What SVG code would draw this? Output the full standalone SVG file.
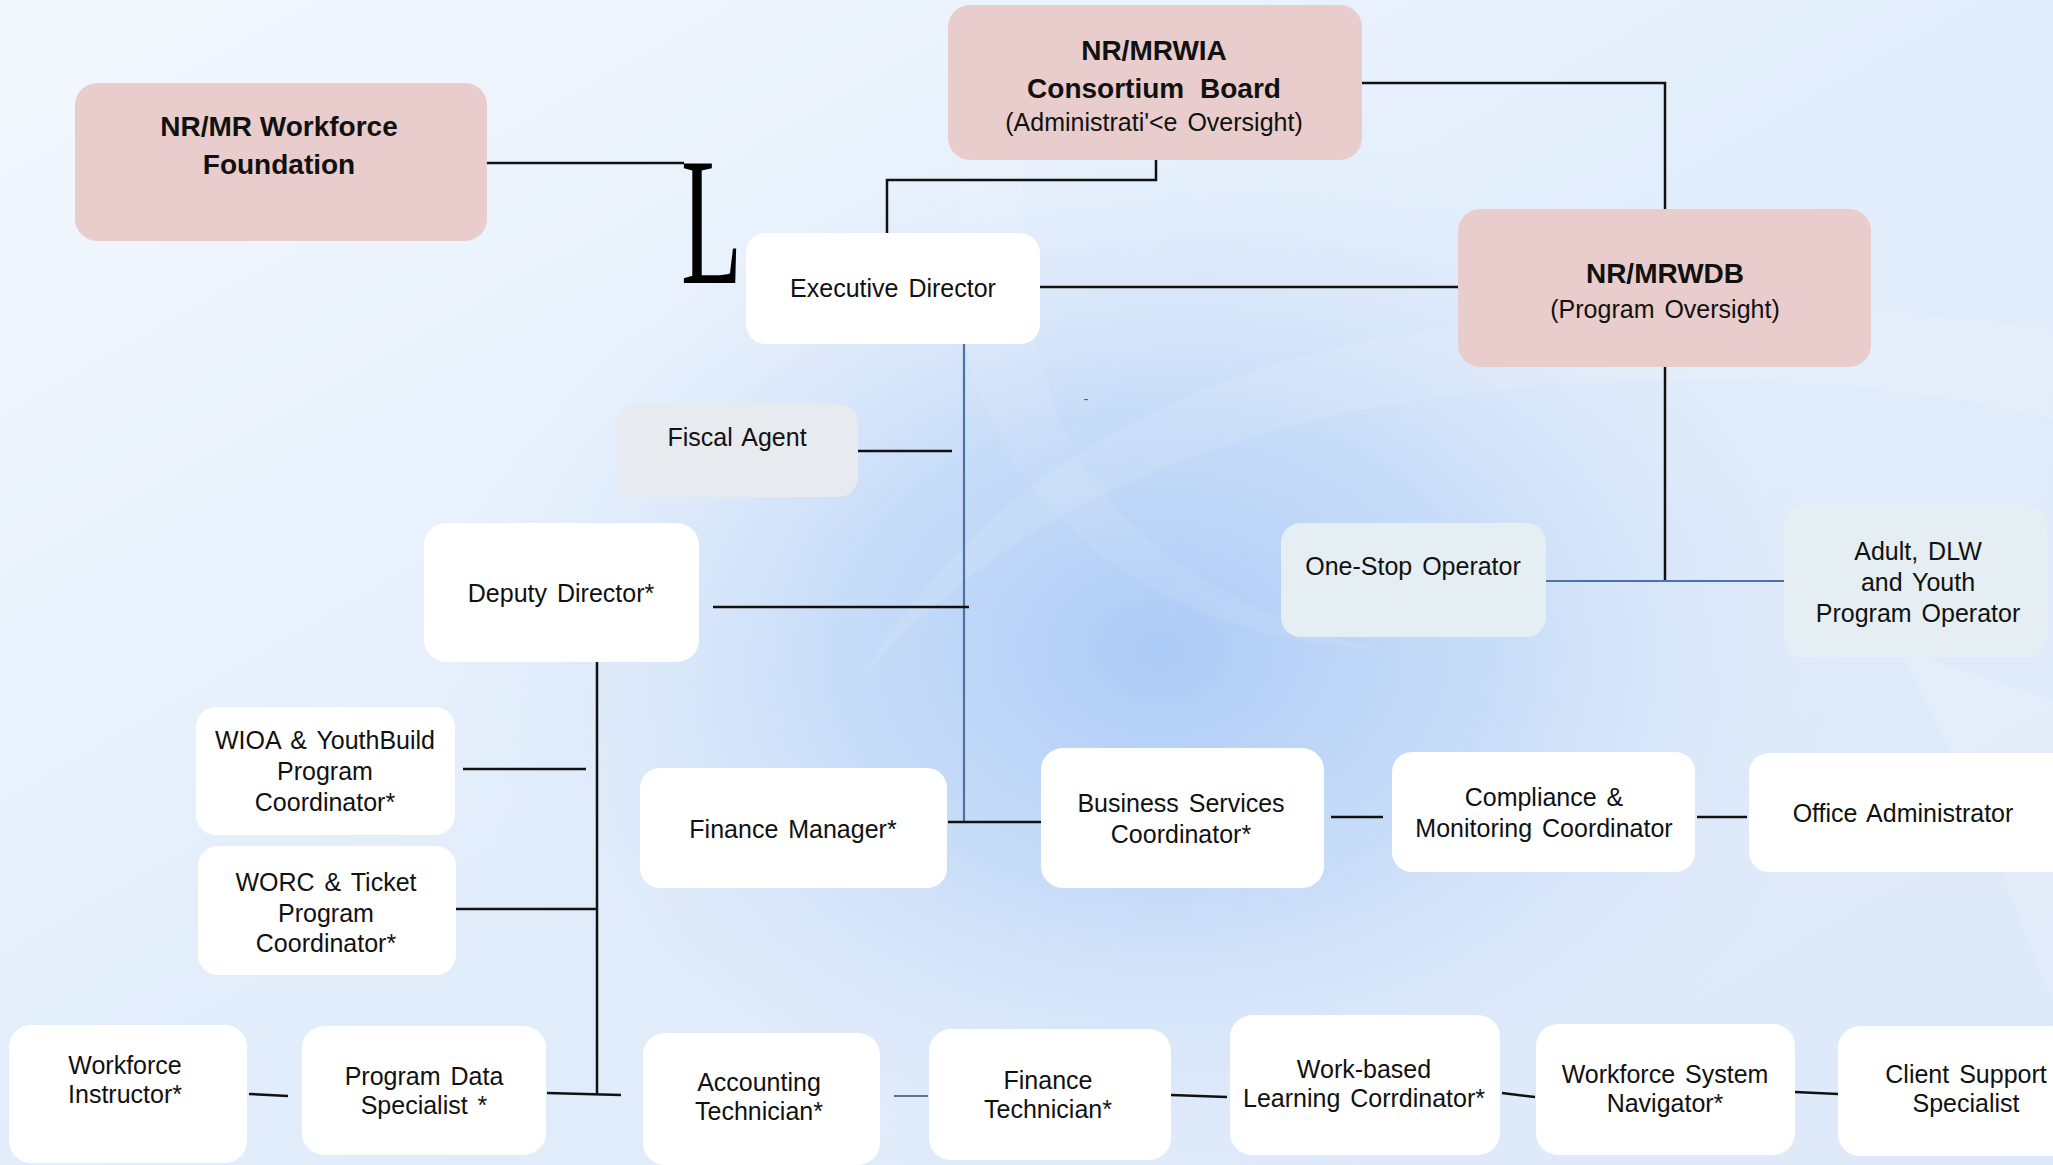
<svg xmlns="http://www.w3.org/2000/svg" width="2053" height="1165" viewBox="0 0 2053 1165">
<defs>
<linearGradient id="bgBase" x1="0" y1="0" x2="1" y2="1">
<stop offset="0" stop-color="#f3f8fe"/>
<stop offset="0.5" stop-color="#e2edfb"/>
<stop offset="1" stop-color="#dde9f9"/>
</linearGradient>
<radialGradient id="bgGlow" cx="1160" cy="650" r="720" gradientUnits="userSpaceOnUse" gradientTransform="translate(1160 650) scale(1 0.75) translate(-1160 -650)">
<stop offset="0" stop-color="#a9c9f6" stop-opacity="0.95"/>
<stop offset="0.45" stop-color="#bcd5f7" stop-opacity="0.7"/>
<stop offset="1" stop-color="#dde9f9" stop-opacity="0"/>
</radialGradient>
<style>
.node rect{stroke:none}
.pink{fill:#e9cdcd}
.white{fill:#ffffff}
.gray{fill:#e7eaef}
.pale{fill:#e5eef3}
text{font-family:"Liberation Sans",Arial,sans-serif;fill:#111111;text-anchor:middle}
.b{font-size:28px;font-weight:bold}
.r{font-size:25px;word-spacing:3px}
.conn line,.conn polyline{fill:none;stroke:#111111;stroke-width:2.5}
.conn .blue{stroke:#4f72a6;stroke-width:2.2}
.conn .slate{stroke:#5a7290;stroke-width:2.2}
</style>
</defs>

<g id="background">
<rect x="0" y="0" width="2053" height="1165" fill="url(#bgBase)"/>
<rect x="0" y="0" width="2053" height="1165" fill="url(#bgGlow)"/>
<path d="M1090 0 C1010 120 1000 260 1060 420 C1100 520 1210 610 1380 650 C1200 640 1060 560 990 420 C930 290 950 120 1030 0 Z" fill="#ffffff" opacity="0.08"/>
<path d="M860 680 C1000 520 1200 420 1500 390 C1700 370 1900 380 2053 420 L2053 330 C1860 300 1640 300 1430 330 C1170 370 980 480 860 680 Z" fill="#ffffff" opacity="0.1"/>
<path d="M1900 650 C1980 800 2030 950 2053 1000 L2053 700 Z" fill="#ffffff" opacity="0.15"/>
</g>

<g id="connectors" class="conn">
<line x1="487" y1="163" x2="684" y2="163"/>
<polyline points="887,233 887,180 1156,180 1156,160"/>
<polyline points="1362,83 1665,83 1665,209"/>
<line x1="1040" y1="287" x2="1458" y2="287"/>
<line x1="1665" y1="367" x2="1665" y2="582"/>
<line class="blue" x1="1546" y1="581" x2="1784" y2="581"/>
<line class="blue" x1="964" y1="344" x2="964" y2="822"/>
<line x1="858" y1="451" x2="952" y2="451"/>
<line x1="713" y1="607" x2="969" y2="607"/>
<line x1="948" y1="822" x2="1041" y2="822"/>
<line x1="1331" y1="817" x2="1383" y2="817"/>
<line x1="1697" y1="817" x2="1747" y2="817"/>
<line x1="597" y1="662" x2="597" y2="1095"/>
<line x1="463" y1="769" x2="586" y2="769"/>
<line x1="456" y1="909" x2="598" y2="909"/>
<line x1="547" y1="1093" x2="621" y2="1095"/>
<line x1="249" y1="1094" x2="288" y2="1096"/>
<line class="slate" x1="894" y1="1096" x2="928" y2="1096"/>
<line x1="1171" y1="1095" x2="1227" y2="1097"/>
<line x1="1502" y1="1093" x2="1535" y2="1097"/>
<line x1="1795" y1="1092" x2="1838" y2="1094"/>
<text x="0" y="0" transform="translate(681 283) scale(0.55 1)" style="font-family:'Liberation Serif','Times New Roman',serif;font-size:182px;text-anchor:start;fill:#000">L</text>
<text x="1086" y="404" style="font-size:14px;fill:#556">-</text>
<text x="635" y="481" style="font-size:12px;fill:#889">-</text>
</g>

<g id="n-foundation" class="node">
<rect class="pink" x="75" y="83" width="412" height="158" rx="22"/>
<text class="b" x="279" y="136">NR/MR Workforce</text>
<text class="b" x="279" y="174">Foundation</text>
</g>

<g id="n-consortium" class="node">
<rect class="pink" x="948" y="5" width="414" height="155" rx="22"/>
<text class="b" x="1154" y="60">NR/MRWIA</text>
<text class="b" x="1154" y="98" style="word-spacing:8px">Consortium Board</text>
<text class="r" x="1154" y="131">(Administrati'&lt;e Oversight)</text>
</g>

<g id="n-executive" class="node">
<rect class="white" x="746" y="233" width="294" height="111" rx="20"/>
<text class="r" x="893" y="297">Executive Director</text>
</g>

<g id="n-wdb" class="node">
<rect class="pink" x="1458" y="209" width="413" height="158" rx="22"/>
<text class="b" x="1665" y="283">NR/MRWDB</text>
<text class="r" x="1665" y="318">(Program Oversight)</text>
</g>

<g id="n-fiscal" class="node">
<rect class="gray" x="617" y="404" width="241" height="93" rx="20"/>
<text class="r" x="737" y="446">Fiscal Agent</text>
</g>

<g id="n-deputy" class="node">
<rect class="white" x="424" y="523" width="275" height="139" rx="22"/>
<text class="r" x="561" y="602">Deputy Director*</text>
</g>

<g id="n-onestop" class="node">
<rect class="pale" x="1281" y="523" width="265" height="114" rx="20"/>
<text class="r" x="1413" y="575">One-Stop Operator</text>
</g>

<g id="n-adult" class="node">
<rect class="pale" x="1784" y="505" width="263" height="153" rx="22"/>
<text class="r" x="1918" y="560">Adult, DLW</text>
<text class="r" x="1918" y="591">and Youth</text>
<text class="r" x="1918" y="622">Program Operator</text>
</g>

<g id="n-wioa" class="node">
<rect class="white" x="196" y="707" width="259" height="128" rx="20"/>
<text class="r" x="325" y="749">WIOA &amp; YouthBuild</text>
<text class="r" x="325" y="780">Program</text>
<text class="r" x="325" y="811">Coordinator*</text>
</g>

<g id="n-worc" class="node">
<rect class="white" x="198" y="846" width="258" height="129" rx="20"/>
<text class="r" x="326" y="891">WORC &amp; Ticket</text>
<text class="r" x="326" y="922">Program</text>
<text class="r" x="326" y="952">Coordinator*</text>
</g>

<g id="n-finmgr" class="node">
<rect class="white" x="640" y="768" width="307" height="120" rx="20"/>
<text class="r" x="793" y="838">Finance Manager*</text>
</g>

<g id="n-business" class="node">
<rect class="white" x="1041" y="748" width="283" height="140" rx="22"/>
<text class="r" x="1181" y="812">Business Services</text>
<text class="r" x="1181" y="843">Coordinator*</text>
</g>

<g id="n-compliance" class="node">
<rect class="white" x="1392" y="752" width="303" height="120" rx="20"/>
<text class="r" x="1544" y="806">Compliance &amp;</text>
<text class="r" x="1544" y="837">Monitoring Coordinator</text>
</g>

<g id="n-office" class="node">
<rect class="white" x="1749" y="753" width="330" height="119" rx="20"/>
<text class="r" x="1903" y="822">Office Administrator</text>
</g>

<g id="n-instructor" class="node">
<rect class="white" x="9" y="1025" width="238" height="138" rx="22"/>
<text class="r" x="125" y="1074">Workforce</text>
<text class="r" x="125" y="1103">Instructor*</text>
</g>

<g id="n-datasp" class="node">
<rect class="white" x="302" y="1026" width="244" height="129" rx="22"/>
<text class="r" x="424" y="1085">Program Data</text>
<text class="r" x="424" y="1114">Specialist *</text>
</g>

<g id="n-acctech" class="node">
<rect class="white" x="643" y="1033" width="237" height="132" rx="22"/>
<text class="r" x="759" y="1091">Accounting</text>
<text class="r" x="759" y="1120">Technician*</text>
</g>

<g id="n-fintech" class="node">
<rect class="white" x="929" y="1029" width="242" height="131" rx="22"/>
<text class="r" x="1048" y="1089">Finance</text>
<text class="r" x="1048" y="1118">Technician*</text>
</g>

<g id="n-workbased" class="node">
<rect class="white" x="1230" y="1015" width="270" height="140" rx="22"/>
<text class="r" x="1364" y="1078">Work-based</text>
<text class="r" x="1364" y="1107">Learning Corrdinator*</text>
</g>

<g id="n-navigator" class="node">
<rect class="white" x="1536" y="1024" width="259" height="131" rx="22"/>
<text class="r" x="1665" y="1083">Workforce System</text>
<text class="r" x="1665" y="1112">Navigator*</text>
</g>

<g id="n-client" class="node">
<rect class="white" x="1838" y="1026" width="240" height="130" rx="22"/>
<text class="r" x="1966" y="1083">Client Support</text>
<text class="r" x="1966" y="1112">Specialist</text>
</g>
</svg>
